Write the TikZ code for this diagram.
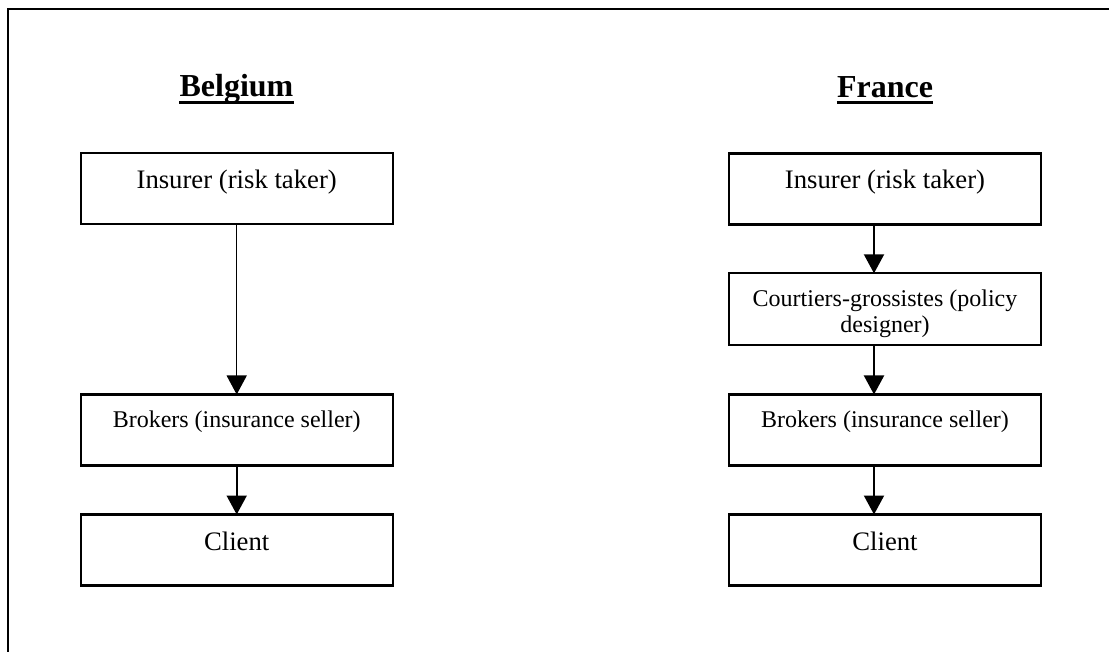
\documentclass[tikz,border=0pt]{standalone}
\usepackage{fontspec}
\setmainfont{Liberation Serif}
\usetikzlibrary{arrows.meta}
\begin{document}
\begin{tikzpicture}[x=1pt,y=-1pt,
 box/.style={draw, line width=2.2pt, minimum width=312pt, minimum height=71pt, inner sep=0pt, outer sep=0pt},
 bigtxt/.style={font=\fontsize{26.7}{30}\selectfont, inner sep=0pt, anchor=base},
 smalltxt/.style={font=\fontsize{24}{26}\selectfont, inner sep=0pt, anchor=base},
 titletxt/.style={font=\bfseries\fontsize{32}{36}\selectfont, inner sep=0pt, anchor=base},
 flow/.style={line width=2pt, -{Triangle[length=19pt,width=20pt]}},
 uline/.style={line width=3pt}]
\useasboundingbox (0,0) rectangle (1109,652);
\draw[line width=2.8pt] (1109,9) -- (8,9) -- (8,652);

% titles
\node[titletxt] (tb) at (236.5,97) {Belgium};
\draw[uline] ([yshift=-5.5pt]tb.base west) -- ([yshift=-5.5pt]tb.base east);
\node[titletxt] (tf) at (885,97.5) {France};
\draw[uline] ([yshift=-5.5pt]tf.base west) -- ([yshift=-5.5pt]tf.base east);

% Belgium column
\node[box] (li) at (236.7,188.7) {};
\node[bigtxt] (lit) at (236.7,189) {Insurer (risk taker)};
\node[box] (lb) at (236.7,430) {};
\node[smalltxt] (lbt) at (236.7,427) {Brokers (insurance seller)};
\node[box] (lc) at (236.7,550) {};
\node[bigtxt] (lct) at (236.7,550) {Client};

\draw[flow, line width=1.4pt] (li.south) -- (lb.north);
\draw[flow] (lb.south) -- (lc.north);

% France column
\node[box] (ri) at (885,189) {};
\node[bigtxt] (rit) at (885,189) {Insurer (risk taker)};
\node[box, minimum height=72pt] (rg) at (885,309.3) {};
\node[smalltxt] (rgt1) at (885,307) {Courtiers-grossistes (policy};
\node[smalltxt] (rgt2) at (885,333) {designer)};
\node[box] (rb) at (885,430) {};
\node[smalltxt] (rbt) at (885,427) {Brokers (insurance seller)};
\node[box] (rc) at (885,550) {};
\node[bigtxt] (rct) at (885,550) {Client};

\draw[flow] ([xshift=-11pt]ri.south) -- ([xshift=-11pt]rg.north);
\draw[flow] ([xshift=-11pt]rg.south) -- ([xshift=-11pt]rb.north);
\draw[flow] ([xshift=-11pt]rb.south) -- ([xshift=-11pt]rc.north);
\end{tikzpicture}
\end{document}
